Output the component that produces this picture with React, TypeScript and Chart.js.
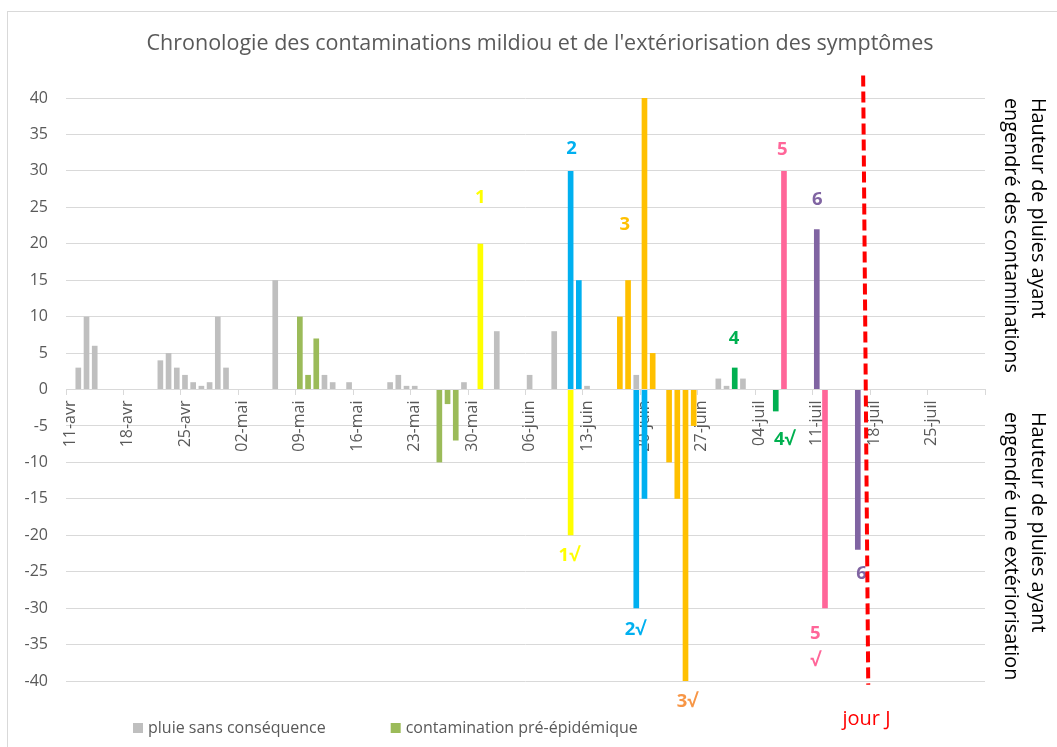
import React, { useEffect, useRef } from "react";
import { Chart, registerables } from "chart.js";

Chart.register(...registerables);

// ---------- Categories (one per day, 11-avr .. 31-juil) ----------
const monthSpans: [string, number, number][] = [
  ["avr", 11, 30],
  ["mai", 1, 31],
  ["juin", 1, 30],
  ["juil", 1, 31],
];
const dayLabels: string[] = [];
for (const [m, first, last] of monthSpans) {
  for (let d = first; d <= last; d++) dayLabels.push(String(d).padStart(2, "0") + "-" + m);
}

// ---------- Tick labels shown on the date axis ----------
const weekTickLabels = [
  "11-avr", "18-avr", "25-avr", "02-mai", "09-mai", "16-mai", "23-mai", "30-mai",
  "06-juin", "13-juin", "20-juin", "27-juin", "04-juil", "11-juil", "18-juil", "25-juil",
];

// ---------- Series values (mm of rain; negative = extériorisation) ----------
const pluieSansConsequence: [string, number][] = [
  ["12-avr", 3], ["13-avr", 10], ["14-avr", 6], ["22-avr", 4], ["23-avr", 5], ["24-avr", 3],
  ["25-avr", 2], ["26-avr", 1], ["27-avr", 0.5], ["28-avr", 1], ["29-avr", 10], ["30-avr", 3],
  ["06-mai", 15], ["12-mai", 2], ["13-mai", 1], ["15-mai", 1], ["20-mai", 1], ["21-mai", 2],
  ["22-mai", 0.5], ["23-mai", 0.5], ["29-mai", 1], ["02-juin", 8], ["06-juin", 2], ["09-juin", 8],
  ["13-juin", 0.5], ["19-juin", 2], ["29-juin", 1.5], ["30-juin", 0.5], ["02-juil", 1.5],
];
const contaminationPreEpidemique: [string, number][] = [
  ["09-mai", 10], ["10-mai", 2], ["11-mai", 7], ["26-mai", -10], ["27-mai", -2], ["28-mai", -7],
];
const contamination1: [string, number][] = [["31-mai", 20], ["11-juin", -20]];
const contamination2: [string, number][] = [["11-juin", 30], ["12-juin", 15], ["19-juin", -30], ["20-juin", -15]];
const contamination3: [string, number][] = [
  ["17-juin", 10], ["18-juin", 15], ["20-juin", 40], ["21-juin", 5],
  ["23-juin", -10], ["24-juin", -15], ["25-juin", -40], ["26-juin", -5],
];
const contamination4: [string, number][] = [["01-juil", 3], ["06-juil", -3]];
const contamination5: [string, number][] = [["07-juil", 30], ["12-juil", -30]];
const contamination6: [string, number][] = [["11-juil", 22], ["16-juil", -22]];

// ---------- Colours ----------
const GRAY = "#BFBFBF";
const OLIVE = "#9BBB59";
const YELLOW = "#FFFF00";
const BLUE = "#00B0F0";
const ORANGE = "#FFC000";
const GREEN4 = "#00B050";
const PINK = "#FF6699";
const PURPLE = "#8064A2";

const seriesList = [
  { name: "pluie sans conséquence", values: pluieSansConsequence, color: GRAY, inLegend: true },
  { name: "contamination pré-épidémique", values: contaminationPreEpidemique, color: OLIVE, inLegend: true },
  { name: "contamination 1", values: contamination1, color: YELLOW, inLegend: false },
  { name: "contamination 2", values: contamination2, color: BLUE, inLegend: false },
  { name: "contamination 3", values: contamination3, color: ORANGE, inLegend: false },
  { name: "contamination 4", values: contamination4, color: GREEN4, inLegend: false },
  { name: "contamination 5", values: contamination5, color: PINK, inLegend: false },
  { name: "contamination 6", values: contamination6, color: PURPLE, inLegend: false },
];

// ---------- Annotations (anchored to a day + shift in days, y in mm) ----------
const annotations = [
  { text: "1", color: YELLOW, day: "31-mai", shift: 0, y: 26.3, bold: true },
  { text: "2", color: BLUE, day: "11-juin", shift: 0.1, y: 33.1, bold: true },
  { text: "3", color: ORANGE, day: "17-juin", shift: 0.6, y: 22.6, bold: true },
  { text: "4", color: GREEN4, day: "01-juil", shift: -0.1, y: 6.9, bold: true },
  { text: "5", color: PINK, day: "07-juil", shift: -0.2, y: 32.9, bold: true },
  { text: "6", color: PURPLE, day: "11-juil", shift: 0.05, y: 26.1, bold: true },
  { text: "1√", color: YELLOW, day: "11-juin", shift: -0.2, y: -22.8, bold: true },
  { text: "2√", color: BLUE, day: "19-juin", shift: -0.15, y: -32.9, bold: true },
  { text: "3√", color: "#F79646", day: "25-juin", shift: 0.2, y: -42.9, bold: true },
  { text: "4√", color: GREEN4, day: "06-juil", shift: 1.05, y: -6.9, bold: true },
  { text: "5", color: PINK, day: "12-juil", shift: -1.17, y: -33.5, bold: true },
  { text: "√", color: PINK, day: "12-juil", shift: -1.17, y: -37.2, bold: true },
  { text: "6", color: PURPLE, day: "16-juil", shift: 0.45, y: -25.3, bold: true },
  { text: "jour J", color: "#FF0000", day: "17-juil", shift: 0.06, y: -45.3, bold: false },
];

// "jour J" marker line: from (day+shift, y) to (day+shift, y)
const jourJLine = { day: "16-juil", topShift: 0.65, topY: 43.1, bottomShift: 1.27, bottomY: -40.5 };

const titleText = "Chronologie des contaminations mildiou et de l'extériorisation des symptômes";
const rightTitleTop = ["Hauteur de pluies ayant", "engendré des contaminations"];
const rightTitleBottom = ["Hauteur de pluies ayant", "engendré une extériorisation"];

const FONT = "'Open Sans', sans-serif";

export default function App() {
  const ref = useRef<HTMLCanvasElement>(null);

  useEffect(() => {
    const canvas = ref.current!;
    const toData = (pairs: [string, number][]) => {
      const arr: (number | null)[] = dayLabels.map(() => null);
      pairs.forEach(([d, v]) => {
        arr[dayLabels.indexOf(d)] = v;
      });
      return arr;
    };
    const datasets = seriesList.map((s) => ({
      label: s.name,
      data: toData(s.values),
      backgroundColor: s.color,
      borderWidth: 0,
    }));

    const decor = {
      id: "decor",
      beforeDraw(chart: any) {
        const ctx = chart.ctx;
        ctx.save();
        ctx.strokeStyle = "#D9D9D9";
        ctx.lineWidth = 1;
        ctx.strokeRect(7.5, 11.5, 1200, 1000);
        ctx.restore();
      },
      afterDraw(chart: any) {
        const ctx = chart.ctx;
        const xs = chart.scales.x;
        const ys = chart.scales.y;
        ctx.save();
        // title
        ctx.fillStyle = "#595959";
        ctx.font = `21.5px ${FONT}`;
        ctx.textAlign = "center";
        ctx.textBaseline = "middle";
        ctx.fillText(titleText, 540, 44);

        // legend
        ctx.font = `16px ${FONT}`;
        ctx.textAlign = "left";
        let lx = 133;
        seriesList
          .filter((s) => s.inLegend)
          .forEach((s) => {
            ctx.fillStyle = s.color;
            ctx.fillRect(lx, 723, 10, 10);
            ctx.fillStyle = "#595959";
            ctx.fillText(s.name, lx + 15, 728);
            lx += 15 + ctx.measureText(s.name).width + 65;
          });

        // right-side rotated titles
        ctx.fillStyle = "#000000";
        ctx.font = `19.8px ${FONT}`;
        const drawRot = (text: string, x: number, y: number) => {
          ctx.save();
          ctx.translate(x, y);
          ctx.rotate(Math.PI / 2);
          ctx.textAlign = "left";
          ctx.textBaseline = "middle";
          ctx.fillText(text, 0, 0);
          ctx.restore();
        };
        drawRot(rightTitleTop[0], 1038, 98);
        drawRot(rightTitleTop[1], 1011, 98);
        drawRot(rightTitleBottom[0], 1038, 412);
        drawRot(rightTitleBottom[1], 1011, 412);

        // annotations
        ctx.textAlign = "center";
        ctx.textBaseline = "middle";
        annotations.forEach((a) => {
          const x = xs.getPixelForValue(dayLabels.indexOf(a.day) + a.shift);
          const y = ys.getPixelForValue(a.y);
          ctx.font = `${a.bold ? "bold " : ""}${a.bold ? 18.5 : 20}px ${FONT}`;
          ctx.fillStyle = a.color;
          ctx.fillText(a.text, x, y);
        });

        // jour J dashed line
        const i0 = dayLabels.indexOf(jourJLine.day);
        ctx.strokeStyle = "#FF0000";
        ctx.lineWidth = 4;
        ctx.setLineDash([11, 5]);
        ctx.beginPath();
        ctx.moveTo(xs.getPixelForValue(i0 + jourJLine.topShift), ys.getPixelForValue(jourJLine.topY));
        ctx.lineTo(xs.getPixelForValue(i0 + jourJLine.bottomShift), ys.getPixelForValue(jourJLine.bottomY));
        ctx.stroke();
        ctx.restore();
      },
    };

    const chart = new Chart(canvas, {
      type: "bar",
      data: { labels: dayLabels, datasets },
      options: {
        responsive: false,
        animation: false,
        layout: { padding: { left: 0, right: 72, top: 98, bottom: 66 } },
        datasets: { bar: { grouped: false, barPercentage: 0.69, categoryPercentage: 1 } },
        plugins: {
          legend: { display: false },
          title: { display: false },
          tooltip: { enabled: false },
        },
        scales: {
          x: {
            position: { y: 0 },
            offset: true,
            grid: {
              offset: true,
              drawOnChartArea: false,
              drawTicks: true,
              tickLength: 5,
              color: (c: any) => {
                if (c.index === undefined || c.index >= dayLabels.length) return "#D9D9D9";
                return weekTickLabels.includes(dayLabels[c.index]) ? "#D9D9D9" : "rgba(0,0,0,0)";
              },
            },
            border: { display: true, color: "#D9D9D9" },
            ticks: {
              autoSkip: false,
              minRotation: 90,
              maxRotation: 90,
              padding: 6,
              color: "#595959",
              font: { family: FONT, size: 16 },
              callback: (_v: any, i: number) => (weekTickLabels.includes(dayLabels[i]) ? dayLabels[i] : ""),
            },
          },
          y: {
            min: -40,
            max: 40,
            ticks: { stepSize: 5, color: "#595959", font: { family: FONT, size: 16 }, padding: 18 },
            grid: { color: "#D9D9D9", drawTicks: false },
            border: { display: false },
            afterFit: (s: any) => {
              s.width = 66;
            },
          },
        },
      } as any,
      plugins: [decor],
    });
    return () => chart.destroy();
  }, []);

  return (
    <canvas
      ref={ref}
      width={1057}
      height={747}
      style={{ position: "absolute", left: 0, top: 0, width: 1057, height: 747 }}
    />
  );
}
